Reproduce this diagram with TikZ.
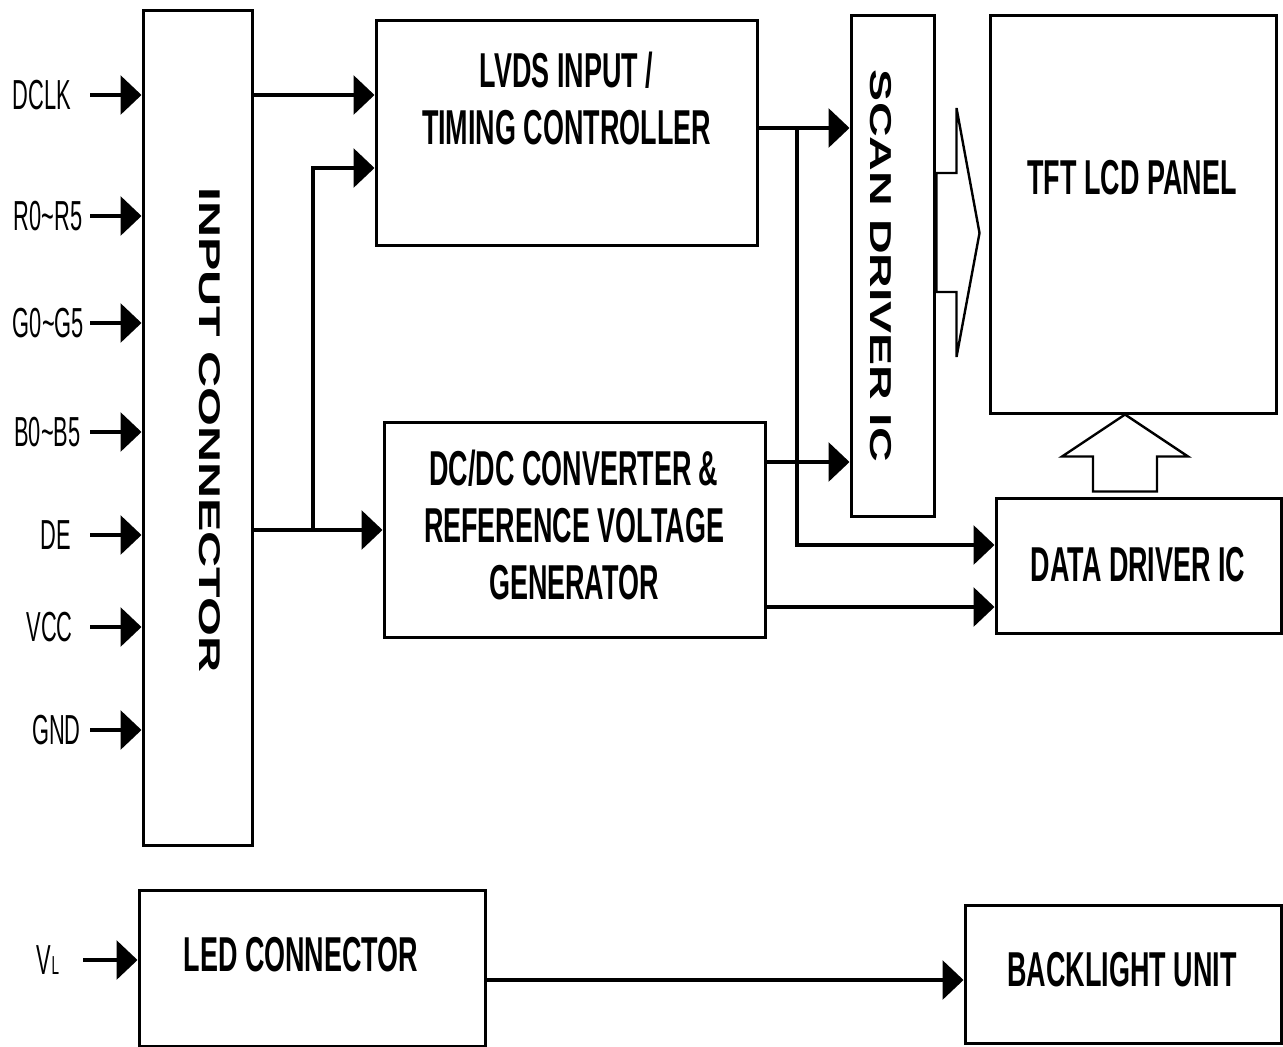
\documentclass[tikz,border=0pt]{standalone}
\usepackage{fontspec}
\setmainfont{Liberation Sans}
\newfontfamily\narrowfont{Liberation Sans}[FakeStretch=0.52]
\newfontfamily\boxfont{Liberation Sans}[FakeStretch=0.55]
\usepackage{graphicx}
\usetikzlibrary{calc, positioning, arrows.meta}
\tikzset{
	line width = 1.5pt,
	block/.style={
		draw,
		line width=1.5pt,
		inner sep=0pt
	},
	blocktext/.style={
		font=\boxfont\bfseries\fontsize{24.5}{28.5}\selectfont,
		align=center
	},
	sigtext/.style={
		font=\narrowfont\fontsize{21}{24}\selectfont,
		inner sep=0pt
	},
	rottext/.style={
		rotate=-90,
		font=\bfseries\fontsize{25}{30}\selectfont,
		inner sep=0pt
	},
	sig/.style={
		-{Triangle[length=10.5pt,width=19.5pt]},
		line width=1.6pt
	},
	hollow/.style={
		draw,
		line width=1.2pt,
		line join=miter
	}
}

\begin{document}
\begin{tikzpicture}[x=0.5pt, y=-0.5pt]
\useasboundingbox (0,0) rectangle (1283,1046);

% ---
% Blocks
% ---
\node[block, minimum width=54.5pt, minimum height=417.5pt] (inconn) at (197.5,427.5) {};
\node[rottext] (inconn-label) at (210,430) {\scalebox{1}[0.6]{INPUT CONNECTOR}};
\node[block, minimum width=190.5pt, minimum height=112.5pt] (lvds) at (566.5,132.5) {};
\node[blocktext] (lvds-label) at (566.5,98) {LVDS INPUT /\\TIMING CONTROLLER};
\node[block, minimum width=41.5pt, minimum height=250.5pt] (scan) at (892.5,265.5) {};
\node[rottext, font=\bfseries\fontsize{24}{30}\selectfont] (scan-label) at (881,266) {\scalebox{1}[0.63]{SCAN DRIVER IC}};
\node[block, minimum width=143pt, minimum height=199pt] (panel) at (1133,214) {};
\node[blocktext] (panel-label) at (1132,178) {TFT LCD PANEL};
\node[block, minimum width=190.5pt, minimum height=107.5pt] (dcdc) at (574.5,529.5) {};
\node[blocktext] (dcdc-label) at (574,525) {DC/DC CONVERTER \&\\REFERENCE VOLTAGE\\GENERATOR};
\node[block, minimum width=142.5pt, minimum height=67.5pt] (data) at (1138.5,565.5) {};
\node[blocktext] (data-label) at (1138,565) {DATA DRIVER IC};
\node[block, minimum width=173pt, minimum height=78pt] (led) at (312,968) {};
\node[blocktext] (led-label) at (301,955) {LED CONNECTOR};
\node[block, minimum width=158pt, minimum height=69pt] (backlight) at (1123,974) {};
\node[blocktext] (backlight-label) at (1122,970) {BACKLIGHT UNIT};

% ---
% Inputs
% ---
\foreach \name/\txt/\xc/\yc in {dclk/DCLK/42/95, rgb-r/R0\textasciitilde R5/48/216,
	rgb-g/G0\textasciitilde G5/48.5/323, rgb-b/B0\textasciitilde B5/47.5/432,
	de/DE/56/535, vcc/VCC/49.5/627, gnd/GND/56.5/730} {
	\node[sigtext] (\name) at (\xc,\yc) {\txt};
	\coordinate (\name-in) at (90,\yc);
	\draw[sig] (\name-in) -- (\name-in -| inconn.west);
}
\node[sigtext] (vl) at (48,960) {V{\fontsize{13}{13}\selectfont L}};
\coordinate (vl-in) at (83,960);
\draw[sig] (vl-in) -- (vl-in -| led.west);

% ---
% Connections
% ---
\draw[sig] (dclk-in -| inconn.east) -- (dclk-in -| lvds.west);
\coordinate (pwr) at (inconn.east |- 0,530);
\coordinate (tap) at (313,530);
\draw[sig] (pwr) -- (pwr -| dcdc.west);
\draw[sig] (tap) |- (lvds.west |- 0,168);
\coordinate (tco) at (lvds.east |- 0,128);
\coordinate (bus) at (797,128);
\draw[sig] (tco) -- (tco -| scan.west);
\draw[sig] (bus) |- (data.west |- 0,545);
\draw[sig] (dcdc.east |- 0,462) -- (scan.west |- 0,462);
\draw[sig] (dcdc.east |- 0,607) -- (data.west |- 0,607);
\draw[sig] (led.east |- 0,980) -- (backlight.west |- 0,980);

% ---
% Block arrows
% ---
\coordinate (hr) at (scan.east |- 0,233);
\draw[hollow] ($(hr)+(1,-60)$) -- ($(hr)+(21,-60)$) -- ($(hr)+(21,-125)$) -- ($(hr)+(44,0)$)
	-- ($(hr)+(21,124)$) -- ($(hr)+(21,59)$) -- ($(hr)+(1,59)$) -- cycle;
\coordinate (hu) at ($(panel.south)+(-8,0)$);
\draw[hollow] (hu) -- ($(hu)+(63,42)$) -- ($(hu)+(32,42)$) -- ($(hu)+(32,77)$)
	-- ($(hu)+(-32,77)$) -- ($(hu)+(-32,42)$) -- ($(hu)+(-63,42)$) -- cycle;
\end{tikzpicture}
\end{document}
